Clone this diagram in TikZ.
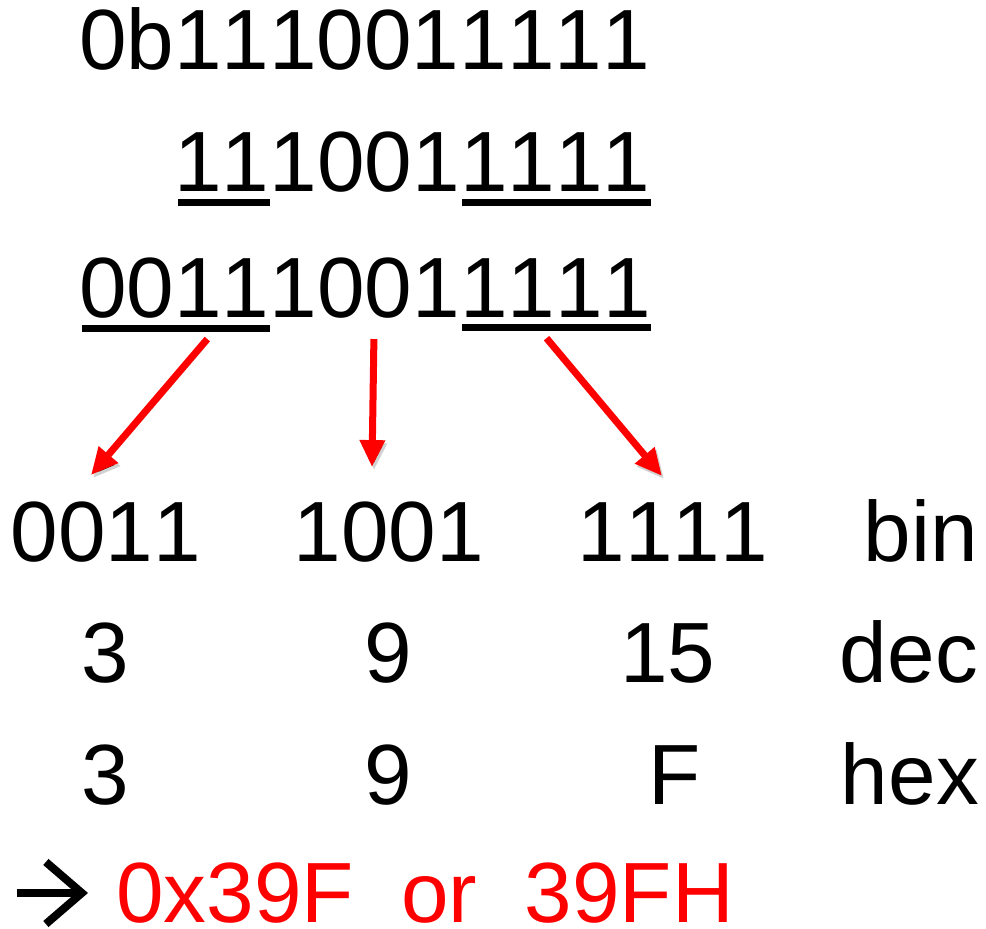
\documentclass[tikz,border=0pt]{standalone}
\usepackage{fontspec}
\setmainfont{Liberation Sans}[Kerning=Off]
\usetikzlibrary{arrows.meta, positioning}

\begin{document}
\begin{tikzpicture}[x=1pt, y=1pt,
    every node/.style={inner sep=0pt, font=\fontsize{85.5}{100}\selectfont},
    uline/.style={line width=7pt},
    redarrow/.style={red, line width=7pt, -{Triangle[length=27pt, width=24pt]},
      preaction={draw=black, draw opacity=0.18, transform canvas={shift={(2pt,-3pt)}}}}]
  \useasboundingbox (0,0) rectangle (986,929);

  % binary literal
  \node[anchor=base west] (r1) at (79,859) {0b1110011111};

  % without prefix, split into nibbles
  \node[anchor=base west] (r2a) at (174,737) {11};
  \node[base right=0pt of r2a] (r2b) {1001};
  \node[base right=0pt of r2b] (r2c) {1111};
  \draw[uline] ([xshift=4pt,yshift=-10pt]r2a.south west) -- ([yshift=-10pt]r2a.south east);
  \draw[uline] ([xshift=2pt,yshift=-10pt]r2c.south west) -- ([yshift=-10pt]r2c.south east);

  % padded with two zeros
  \node[anchor=base west] (r3a) at (79,611) {0011};
  \node[base right=0pt of r3a] (r3b) {1001};
  \node[base right=0pt of r3b] (r3c) {1111};
  \draw[uline] ([xshift=3pt,yshift=-9pt]r3a.south west) -- ([yshift=-9pt]r3a.south east);
  \draw[uline] ([xshift=2pt,yshift=-9pt]r3c.south west) -- ([yshift=-9pt]r3c.south east);

  % table of nibbles
  \node[anchor=base] (b1) at (106,367) {0011};
  \node[anchor=base] (b2) at (389,367) {1001};
  \node[anchor=base] (b3) at (673,367) {1111};
  \node[anchor=base east] (bin) at (978,367) {bin};

  \node[anchor=base] (d1) at (105,246) {3};
  \node[anchor=base] (d2) at (388,246) {9};
  \node[anchor=base] (d3) at (668,246) {15};
  \node[anchor=base east] (dec) at (978,246) {dec};

  \node[anchor=base] (h1) at (105,124) {3};
  \node[anchor=base] (h2) at (388,124) {9};
  \node[anchor=base] (h3) at (675,124) {F};
  \node[anchor=base east] (hex) at (979,124) {hex};

  \draw[redarrow] ([xshift=33pt,yshift=-20pt]r3a.south) -- ([xshift=-15pt,yshift=27pt]b1.north);
  \draw[redarrow] ([xshift=9pt,yshift=-20pt]r3b.south) -- ([xshift=-17pt,yshift=35pt]b2.north);
  \draw[redarrow] ([xshift=-9pt,yshift=-20pt]r3c.south) -- ([xshift=-11pt,yshift=27pt]b3.north);

  % result
  \draw[line width=8pt, -{Straight Barb[length=36pt, width=62pt]}] (17,36) -- (88,36);
  \node[anchor=base west, text=red] (res) at (116,6) {0x39F\ \ or\ \ 39FH};
\end{tikzpicture}
\end{document}
